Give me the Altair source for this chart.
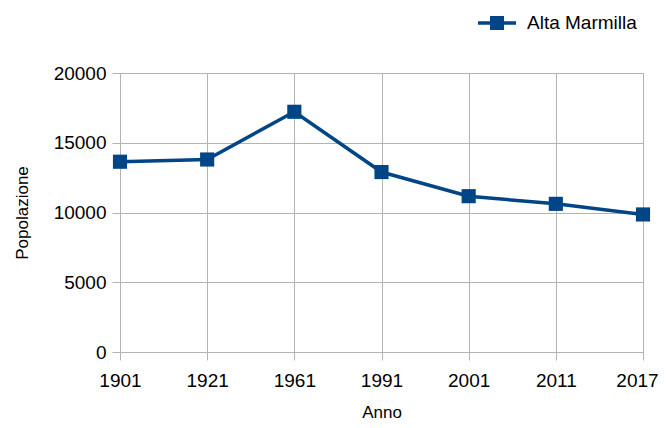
import altair as alt
import pandas as pd

anni = ["1901", "1921", "1961", "1991", "2001", "2011", "2017"]
popolazione = [13640, 13800, 17220, 12900, 11170, 10620, 9860]
serie = "Alta Marmilla"

df = pd.DataFrame({"Anno": anni, "Popolazione": popolazione, "Serie": [serie] * len(anni)})

BLUE = "#004586"
GRID = "#b3b3b3"
FONT = "Liberation Sans"

x = alt.X("Anno:O", sort=anni, title="Anno",
          scale=alt.Scale(type="point", padding=0),
          axis=alt.Axis(labelAngle=0, grid=True, gridColor=GRID, domainColor=GRID,
                        tickColor=GRID, tickSize=8, labelPadding=11, titlePadding=14,
                        labelFontSize=19, titleFontSize=17, labelColor="#000",
                        titleColor="#000", labelFont=FONT, titleFont=FONT,
                        titleFontWeight="normal",
                        labelOffset={"condition": {"test": f"datum.value == '{anni[-1]}'",
                                                   "value": -6}, "value": 0}))
y = alt.Y("Popolazione:Q", title="Popolazione",
          scale=alt.Scale(domain=[0, 20000], nice=False),
          axis=alt.Axis(values=[0, 5000, 10000, 15000, 20000], format="d", grid=True,
                        gridColor=GRID, domainColor=GRID, tickColor=GRID, tickSize=8,
                        labelPadding=6, titlePadding=22, labelFontSize=19,
                        titleFontSize=17, labelColor="#000", titleColor="#000",
                        labelFont=FONT, titleFont=FONT, titleFontWeight="normal"))

# custom legend symbol: line with a square in the middle (scale = sqrt(size)/2 = 15px)
sym = ("M-1.27,-0.117 L-0.467,-0.117 L-0.467,-0.467 L0.467,-0.467 L0.467,-0.117 "
       "L1.27,-0.117 L1.27,0.117 L0.467,0.117 L0.467,0.467 L-0.467,0.467 "
       "L-0.467,0.117 L-1.27,0.117 Z")

line = alt.Chart(df).mark_line(strokeWidth=3.5).encode(
    x=x, y=y,
    color=alt.Color("Serie:N", scale=alt.Scale(domain=[serie], range=[BLUE]),
                    legend=alt.Legend(title=None, orient="none", legendX=362, legendY=-65,
                                      symbolType=sym, symbolSize=900,
                                      symbolFillColor=BLUE, symbolStrokeWidth=0,
                                      labelFontSize=19, labelFont=FONT, labelColor="#000",
                                      labelOffset=15, padding=0)),
)
points = alt.Chart(df).mark_square(size=200, filled=True, opacity=1).encode(
    x=x, y=y, color=alt.value(BLUE)
)

chart = (line + points).properties(
    width=523, height=279,
    autosize=alt.AutoSizeParams(type="none"),
    padding={"left": 112, "top": 65, "right": 15, "bottom": 68},
).configure_view(stroke=None).configure(background="white")

chart.save("out.html", embed_options={"renderer": "svg", "actions": False})
